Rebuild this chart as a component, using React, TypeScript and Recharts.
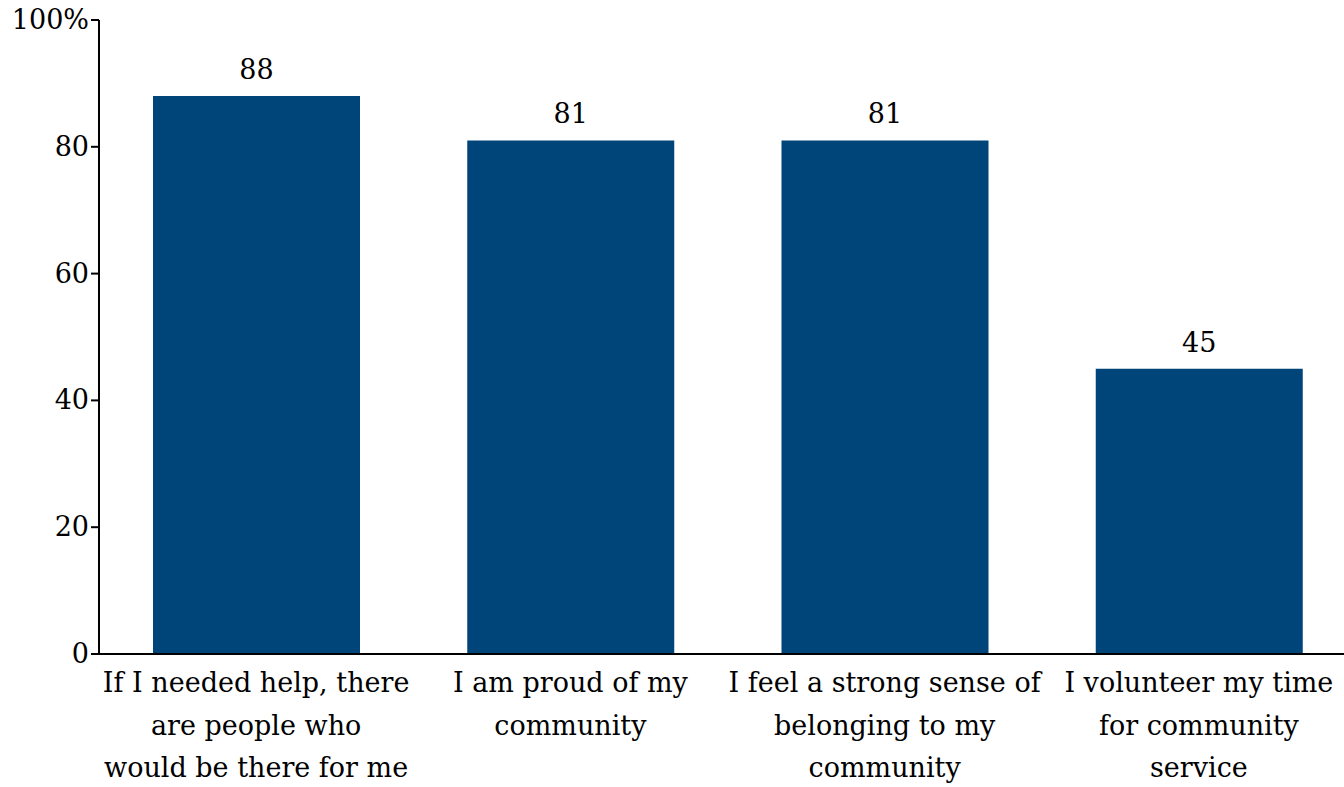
import { BarChart, Bar, XAxis, YAxis, LabelList } from "recharts";

const categories = [
  "If I needed help, there are people who would be there for me",
  "I am proud of my community",
  "I feel a strong sense of belonging to my community",
  "I volunteer my time for community service",
];
const tickLines = [
  ["If I needed help, there", "are people who", "would be there for me"],
  ["I am proud of my", "community"],
  ["I feel a strong sense of", "belonging to my", "community"],
  ["I volunteer my time", "for community", "service"],
];
const values = [88, 81, 81, 45];
const yTicks = [0, 20, 40, 60, 80, 100];

const FONT = "'DejaVu Serif', 'Liberation Serif', serif";
const FS = 27;
const BLUE = "#00457A";

const data = categories.map((c, i) => ({ name: c, value: values[i] }));

function CatTick(props: any) {
  const { x, y, index } = props;
  const lines = tickLines[index] ?? [];
  return (
    <g>
      {lines.map((l, i) => (
        <text key={i} x={x} y={y + 30 + i * 42.5} textAnchor="middle" fill="#000"
              fontFamily={FONT} fontSize={FS}>
          {l}
        </text>
      ))}
    </g>
  );
}

function PctTick(props: any) {
  const { x, y, payload } = props;
  return (
    <text x={x} y={y + 9} textAnchor="end" fill="#000" fontFamily={FONT} fontSize={FS}>
      {payload.value === 100 ? "100%" : payload.value}
    </text>
  );
}

export default function App() {
  return (
    <div style={{ position: "absolute", left: 0, top: 0, width: 1344, height: 787, overflow: "hidden", background: "#fff" }}>
      <BarChart width={1370} height={787} data={data}
                margin={{ top: 20, right: 14, left: 0, bottom: 0 }}>
        <XAxis dataKey="name" tick={<CatTick />} interval={0} height={133}
               axisLine={{ stroke: "#000", strokeWidth: 2 }} tickLine={false} />
        <YAxis domain={[0, 100]} ticks={yTicks} width={99} tick={<PctTick />}
               axisLine={{ stroke: "#000", strokeWidth: 2 }}
               tickLine={{ stroke: "#000", strokeWidth: 2 }} tickSize={8} />
        <Bar dataKey="value" fill={BLUE} barSize={207} isAnimationActive={false}>
          <LabelList dataKey="value" position="top" offset={17}
                     style={{ fill: "#000", fontFamily: FONT, fontSize: FS }} />
        </Bar>
      </BarChart>
    </div>
  );
}
